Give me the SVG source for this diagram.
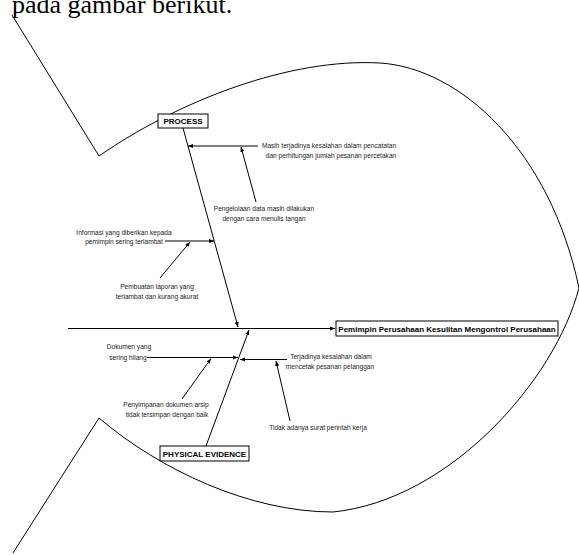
<svg xmlns="http://www.w3.org/2000/svg" width="579" height="555" viewBox="0 0 579 555">
  <style>
    .outline { fill: none; stroke: #000; stroke-width: 1; }
    .bone { fill: none; stroke: #000; stroke-width: 1; }
    .lbl { font-family: "Liberation Sans", Arial, sans-serif; font-size: 6.6px; fill: #222; text-anchor: middle; }
    .head { font-family: "Liberation Sans", Arial, sans-serif; font-size: 8px; font-weight: bold; fill: #000; text-anchor: middle; }
    .box { fill: #fff; stroke: #000; stroke-width: 1; }
    .caption { font-family: "Liberation Serif", "Times New Roman", serif; font-size: 26px; fill: #000; }
  </style>
  <defs>
    <marker id="arr" viewBox="0 0 10 10" refX="10" refY="5" markerWidth="5" markerHeight="5" orient="auto" markerUnits="userSpaceOnUse">
      <path d="M0,1 L10,5 L0,9 Z" fill="#000"/>
    </marker>
  </defs>
  <rect width="579" height="555" fill="#fff"/>

  <!-- caption line above the figure -->
  <text class="caption" x="12" y="13">pada gambar berikut.</text>

  <!-- fish outline: tail strokes and head arcs -->
  <g id="fish-outline">
    <path class="outline" d="M12,15 L99,156"/>
    <path class="outline" d="M99,156 C180,100 290,58 380,63 C460,68 550,150 579,288"/>
    <path class="outline" d="M579,288 C555,380 450,500 333,512 C250,512 160,470 99,418"/>
    <path class="outline" d="M99,418 L13,553"/>
  </g>

  <!-- connectors -->
  <g id="connectors">
    <line class="bone" x1="68" y1="328.5" x2="335" y2="328.5" marker-end="url(#arr)"/>
    <line class="bone" x1="183" y1="128" x2="238" y2="327" marker-end="url(#arr)"/>
    <line class="bone" x1="206" y1="446" x2="249" y2="330" marker-end="url(#arr)"/>
    <line class="bone" x1="258" y1="146" x2="188" y2="146" marker-end="url(#arr)"/>
    <line class="bone" x1="256" y1="202" x2="241" y2="147" marker-end="url(#arr)"/>
    <line class="bone" x1="165" y1="241" x2="214" y2="241" marker-end="url(#arr)"/>
    <line class="bone" x1="160" y1="278" x2="190" y2="242" marker-end="url(#arr)"/>
    <line class="bone" x1="147" y1="357.5" x2="238" y2="357.5" marker-end="url(#arr)"/>
    <line class="bone" x1="182" y1="399" x2="211" y2="358.5" marker-end="url(#arr)"/>
    <line class="bone" x1="287" y1="359.5" x2="240" y2="359.5" marker-end="url(#arr)"/>
    <line class="bone" x1="290" y1="421" x2="276" y2="361" marker-end="url(#arr)"/>
  </g>

  <g id="effect">
    <rect class="box" x="336" y="321" width="222" height="15"/>
    <text class="head" x="447" y="331.5">Pemimpin Perusahaan Kesulitan Mengontrol Perusahaan</text>
  </g>

  <g id="process">
    <rect class="box" x="158" y="114" width="50" height="14"/>
    <text class="head" x="183" y="124">PROCESS</text>
  </g>

  <g id="physical-evidence">
    <rect class="box" x="160" y="446" width="89" height="15"/>
    <text class="head" x="204.5" y="456.5">PHYSICAL EVIDENCE</text>
  </g>

  <g id="cause-pencatatan">
    <text class="lbl" x="329" y="148">Masih terjadinya kesalahan dalam pencatatan</text>
    <text class="lbl" x="331" y="157.5">dan perhitungan jumlah pesanan percetakan</text>
  </g>

  <g id="cause-menulis">
    <text class="lbl" x="264" y="210.5">Pengelolaan data masih dilakukan</text>
    <text class="lbl" x="264" y="220.5">dengan cara menulis tangan</text>
  </g>

  <g id="cause-informasi">
    <text class="lbl" x="124" y="234.5">Informasi yang diberikan kepada</text>
    <text class="lbl" x="124" y="243.5">pemimpin sering terlambat</text>
  </g>

  <g id="cause-laporan">
    <text class="lbl" x="157" y="289">Pembuatan laporan yang</text>
    <text class="lbl" x="157" y="299">terlambat dan kurang akurat</text>
  </g>

  <g id="cause-dokumen">
    <text class="lbl" x="129" y="349">Dokumen yang</text>
    <text class="lbl" x="128" y="359.5">sering hilang</text>
  </g>

  <g id="cause-arsip">
    <text class="lbl" x="166" y="407">Penyimpanan dokumen arsip</text>
    <text class="lbl" x="167" y="417">tidak tersimpan dengan baik</text>
  </g>

  <g id="cause-cetak">
    <text class="lbl" x="331" y="358.5">Terjadinya kesalahan dalam</text>
    <text class="lbl" x="330" y="368.5">mencetak pesanan pelanggan</text>
  </g>

  <g id="cause-perintah">
    <text class="lbl" x="318" y="430">Tidak adanya surat perintah kerja</text>
  </g>
</svg>
